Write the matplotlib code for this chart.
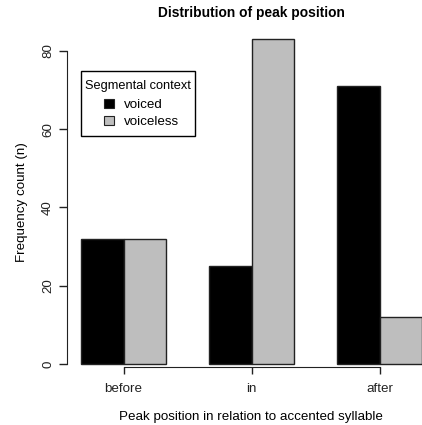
import matplotlib
matplotlib.use("Agg")
import matplotlib.pyplot as plt
from matplotlib.patches import Rectangle
import numpy as np

categories = ["before", "in", "after"]
voiced = [32, 25, 71]
voiceless = [32, 83, 12]
series_names = ["voiced", "voiceless"]
series_colors = ["black", "#BEBEBE"]
yticks = [0, 20, 40, 60, 80]

plt.rcParams['font.family'] = ['Liberation Sans', 'DejaVu Sans']
FS = 9.6
LFS = 9.6
LTFS = 9.2

W, H = 422, 425
fig = plt.figure(figsize=(W / 100, H / 100), dpi=100)
# plot region in pixels (extends beyond right edge as in the reference)
px_left, px_right, px_top, px_bottom = 67.3, 436.0, 25.9, 377.3
ax = fig.add_axes([px_left / W, 1 - px_bottom / H,
                   (px_right - px_left) / W, (px_bottom - px_top) / H])

n = len(categories)
left_v = np.arange(n) * 3 + 1
left_vl = left_v + 1
ax.bar(left_v, voiced, width=1, align='edge', color=series_colors[0],
       edgecolor='#222222', linewidth=1.0)
ax.bar(left_vl, voiceless, width=1, align='edge', color=series_colors[1],
       edgecolor='#222222', linewidth=1.0)

ax.set_xlim(0.68, 9.32)
ax.set_ylim(-3.32, 86.32)

for s in ['top', 'right']:
    ax.spines[s].set_visible(False)
ax.spines['left'].set_bounds(0, 80)
ax.spines['left'].set_color('#222222')
ax.spines['bottom'].set_position(('data', -0.77))
centers = left_v + 1
ax.spines['bottom'].set_bounds(centers[0], centers[-1])
ax.spines['bottom'].set_color('#222222')

ax.set_yticks(yticks)
ax.set_yticklabels([str(v) for v in yticks], rotation=90, va='center')
ax.set_xticks(centers)
ax.set_xticklabels(categories)
ax.tick_params(axis='y', length=5.5, width=1, pad=4.0, labelsize=FS, colors='#222222')
ax.tick_params(axis='x', length=4.8, width=1, pad=6.5, labelsize=FS, colors='#222222')

ax.set_xlabel("Peak position in relation to accented syllable", fontsize=FS)
ax.xaxis.set_label_coords(0.4977, -0.113)
ax.xaxis.label.set_va('center')
ax.set_ylabel("Frequency count (n)", fontsize=FS)
ax.yaxis.set_label_coords(-0.124, 0.5)
ax.yaxis.label.set_va('center')

fig.text(251 / W, 1 - 13.5 / H, "Distribution of peak position",
         ha='center', va='center', fontsize=FS + 0.3, fontweight='bold')

# legend drawn in figure pixel coordinates
def fx(x):
    return x / W

def fy(y):
    return 1 - y / H

box_l, box_r, box_t, box_b = 80.7, 195.3, 71.3, 136.3
fig.patches.append(Rectangle((fx(box_l), fy(box_b)), fx(box_r) - fx(box_l),
                             fy(box_t) - fy(box_b), transform=fig.transFigure,
                             facecolor='white', edgecolor='black', linewidth=1.0,
                             zorder=5))
fig.text(fx((box_l + box_r) / 2), fy(89.0), "Segmental context", ha='center',
         va='baseline', fontsize=LTFS, zorder=6)
sq = 9.4
rows_y = [108.3, 125.3]
for name, col, yb in zip(series_names, series_colors, rows_y):
    fig.patches.append(Rectangle((fx(104.2), fy(yb)), fx(sq), fy(yb - sq) - fy(yb),
                                 transform=fig.transFigure, facecolor=col,
                                 edgecolor='#222222', linewidth=0.8, zorder=6))
    fig.text(fx(124), fy(yb), name, ha='left', va='baseline', fontsize=LFS, zorder=6)

fig.savefig("out.png", dpi=100)
